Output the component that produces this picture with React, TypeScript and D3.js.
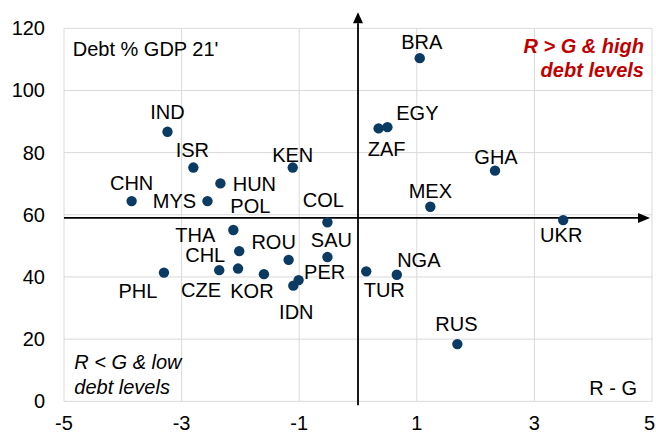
import * as d3 from "d3";

// R - G (pp) and general government debt, % of GDP (2021)
const countries = ["IND", "ISR", "HUN", "KEN", "CHN", "MYS", "BRA", "ZAF", "EGY", "GHA", "MEX", "UKR", "NGA", "TUR", "RUS", "COL", "SAU", "POL", "THA", "CHL", "CZE", "KOR", "ROU", "IDN", "PER", "PHL"];
const rMinusG = [-3.24, -2.8, -2.34, -1.11, -3.85, -2.56, 1.05, 0.35, 0.5, 2.33, 1.23, 3.49, 0.66, 0.14, 1.69, -0.52, -0.52, -2.12, -2.02, -2.36, -2.04, -1.6, -1.18, -1.1, -1.01, -3.3];
const debt = [86.7, 75.2, 70.1, 75.2, 64.4, 64.4, 110.4, 87.8, 88.2, 74.2, 62.6, 58.3, 40.7, 41.8, 18.4, 57.6, 46.4, 55.1, 48.3, 42.2, 42.7, 40.9, 45.5, 37.2, 39.0, 41.4];

const xTicks = [-5, -3, -1, 1, 3, 5];
const yTicks = [0, 20, 40, 60, 80, 100, 120];
const axisCross = { x: 0, y: 59 };

// label placement relative to each dot (px)
const labelOffsets: Record<string, [number, number]> = {
  IND: [0, -20], ISR: [-1, -18], HUN: [34, 1], KEN: [0, -13], CHN: [0, -18], MYS: [-33, 0],
  BRA: [2, -16], ZAF: [8, 21], EGY: [30, -14], GHA: [1, -14], MEX: [0, -16], UKR: [-2, 15],
  NGA: [22, -15], TUR: [18, 19], RUS: [-1, -20], COL: [-4, -22], SAU: [4, -17], POL: [17, -24],
  THA: [-44, -16], CHL: [-14, -15], CZE: [-37, 21], KOR: [-12, 17], ROU: [-15, -18], IDN: [3, 26],
  PER: [26, -8], PHL: [-26, 18],
};

const width = 656;
const height = 435;
const left = 64;
const right = 652;
const top = 28.3;
const bottom = 401.3;
const font = "'Liberation Sans', Arial, sans-serif";

export default function App() {
  const x = d3.scaleLinear().domain([-5, 5]).range([left, right]);
  const y = d3.scaleLinear().domain([0, 120]).range([bottom, top]);
  const ax = x(axisCross.x);
  const ay = y(axisCross.y);

  return (
    <svg width={width} height={height} style={{ position: "absolute", left: 0, top: 0, background: "#fff" }} fontFamily={font}>
      {/* grid */}
      {xTicks.map((t) => (
        <line key={"gx" + t} x1={x(t)} x2={x(t)} y1={top} y2={bottom} stroke="#d9d9d9" strokeWidth={1} />
      ))}
      {yTicks.map((t) => (
        <line key={"gy" + t} x1={left} x2={right} y1={y(t)} y2={y(t)} stroke="#d9d9d9" strokeWidth={1} />
      ))}

      {/* tick labels */}
      {yTicks.map((t) => (
        <text key={"ty" + t} x={45} y={y(t)} dy="0.35em" textAnchor="end" fontSize={20} fill="#000">{t}</text>
      ))}
      {xTicks.map((t, i) => {
        const last = i === xTicks.length - 1;
        return (
          <text key={"tx" + t} x={last ? width - 1 : x(t)} y={430} textAnchor={last ? "end" : "middle"} fontSize={20} fill="#000">{t}</text>
        );
      })}

      {/* crossing axes */}
      <line x1={left} x2={right - 12} y1={ay} y2={ay} stroke="#000" strokeWidth={1.8} />
      <path d={`M${right - 14},${ay - 5} L${right - 2},${ay} L${right - 14},${ay + 5} Z`} fill="#000" />
      <line x1={ax} x2={ax} y1={bottom + 4} y2={top - 5} stroke="#000" strokeWidth={1.8} />
      <path d={`M${ax - 5},${top - 5} L${ax},${top - 16} L${ax + 5},${top - 5} Z`} fill="#000" />

      {/* dots */}
      {countries.map((c, i) => (
        <circle key={c} cx={x(rMinusG[i])} cy={y(debt[i])} r={5.2} fill="#0b3a63" />
      ))}
      {countries.map((c, i) => {
        const [dx, dy] = labelOffsets[c] ?? [0, -16];
        return (
          <text key={"l" + c} x={x(rMinusG[i]) + dx} y={y(debt[i]) + dy} dy="0.35em" textAnchor="middle" fontSize={20} fill="#000">
            {c}
          </text>
        );
      })}

      {/* annotations */}
      <text x={72.7} y={56} fontSize={20} fill="#000">Debt % GDP 21'</text>
      <text textAnchor="end" fontSize={20} fontWeight="bold" fontStyle="italic" fill="#c00000">
        <tspan x={644} y={52.7}>R &gt; G &amp; high</tspan>
        <tspan x={644} y={77.3}>debt levels</tspan>
      </text>
      <text fontSize={20} fontStyle="italic" fill="#000">
        <tspan x={74.3} y={369.3}>R &lt; G &amp; low</tspan>
        <tspan x={74.3} y={394}>debt levels</tspan>
      </text>
      <text x={637} y={395} textAnchor="end" fontSize={20} fill="#000">R - G</text>
    </svg>
  );
}
